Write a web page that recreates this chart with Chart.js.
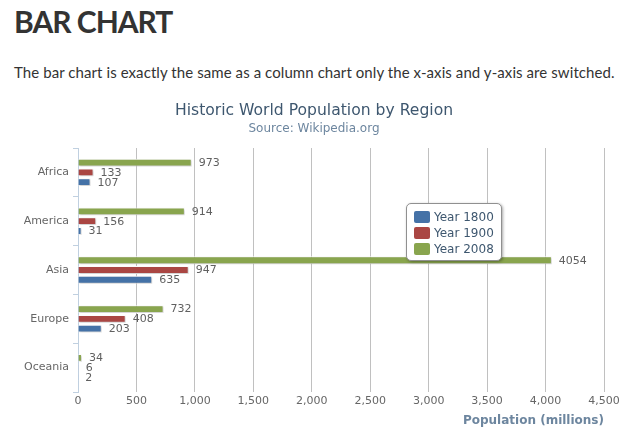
<!DOCTYPE html>
<html>
<head>
<meta charset="utf-8">
<script src="https://cdn.jsdelivr.net/npm/chart.js@4/dist/chart.umd.min.js"></script>
<style>
  html, body { margin: 0; padding: 0; background: #fff; width: 634px; height: 435px; overflow: hidden; }
  h1 { position: absolute; left: 14px; top: 3px; margin: 0; font-family: Lato, sans-serif; font-weight: 700; font-size: 30px; color: #333; letter-spacing: -1px; white-space: nowrap; }
  p.desc { position: absolute; left: 14px; top: 63px; margin: 0; font-family: Lato, sans-serif; font-size: 15px; color: #333; white-space: nowrap; letter-spacing: 0.08px; }
  #wrap { position: absolute; left: 0; top: 95px; width: 634px; height: 340px; }
  #legend { position: absolute; left: 406px; top: 203px; width: 96px; height: 58px; background: #fff; border: 1px solid #909090; border-radius: 5px; box-shadow: 1px 1px 3px rgba(0,0,0,0.35); font-family: "DejaVu Sans", sans-serif; font-size: 12px; color: #3E576F; box-sizing: border-box; padding: 5px 0 0 7px; }
  #legend .item { height: 16px; line-height: 16px; white-space: nowrap; }
  #legend .sw { display: inline-block; width: 16px; height: 12px; border-radius: 2px; vertical-align: -2px; margin-right: 4px; }
</style>
</head>
<body>
<h1>BAR CHART</h1>
<p class="desc">The bar chart is exactly the same as a column chart only the x-axis and y-axis are switched.</p>
<div id="wrap"><canvas id="c"></canvas></div>
<div id="legend"></div>
<script>
const categories = ['Africa', 'America', 'Asia', 'Europe', 'Oceania'];
const year1800 = [107, 31, 635, 203, 2];
const year1900 = [133, 156, 947, 408, 6];
const year2008 = [973, 914, 4054, 732, 34];
const seriesNames = ['Year 1800', 'Year 1900', 'Year 2008'];
const seriesColors = ['#4572A7', '#AA4643', '#89A54E'];
const xTickMax = 4500;
const xTickStep = 500;

const seriesData = [year1800, year1900, year2008];
// drawn top-to-bottom inside each group: 2008, 1900, 1800
const datasets = [2, 1, 0].map(i => ({
  label: seriesNames[i],
  data: seriesData[i],
  backgroundColor: seriesColors[i],
  borderColor: '#FFFFFF',
  borderWidth: 1,
  categoryPercentage: 0.6,
  barPercentage: 0.8
}));

const barExtras = {
  id: 'barExtras',
  beforeDatasetsDraw(chart) {
    const ctx = chart.ctx;
    ctx.save();
    ctx.shadowColor = 'rgba(0,0,0,0.22)';
    ctx.shadowBlur = 2;
    ctx.shadowOffsetX = 1;
    ctx.shadowOffsetY = 1;
  },
  afterDatasetsDraw(chart) {
    const ctx = chart.ctx;
    ctx.restore();
    ctx.save();
    ctx.font = '11px "DejaVu Sans", sans-serif';
    ctx.fillStyle = '#606060';
    ctx.textAlign = 'left';
    ctx.textBaseline = 'middle';
    chart.data.datasets.forEach((ds, di) => {
      const meta = chart.getDatasetMeta(di);
      meta.data.forEach((el, i) => {
        ctx.fillText(String(ds.data[i]), el.x + 7, el.y + 0.5);
      });
    });
    ctx.restore();
  }
};

const chart = new Chart(document.getElementById('c'), {
  type: 'bar',
  data: { labels: categories, datasets },
  options: {
    indexAxis: 'y',
    responsive: true,
    maintainAspectRatio: false,
    animation: false,
    layout: { padding: { left: 24, right: 30, top: 0, bottom: 0 } },
    plugins: {
      legend: { display: false },
      tooltip: { enabled: false },
      title: {
        display: true,
        text: 'Historic World Population by Region',
        color: '#3E576F',
        font: { family: '"DejaVu Sans", sans-serif', size: 15.6, weight: 'normal' },
        padding: { top: 7, bottom: 0 }
      },
      subtitle: {
        display: true,
        text: 'Source: Wikipedia.org',
        color: '#6D869F',
        font: { family: '"DejaVu Sans", sans-serif', size: 12, weight: 'normal' },
        padding: { top: 0.5, bottom: 12.4 }
      }
    },
    scales: {
      x: {
        min: 0,
        max: xTickMax,
        ticks: {
          stepSize: xTickStep,
          padding: 3,
          color: '#666',
          font: { family: '"DejaVu Sans", sans-serif', size: 11 },
          callback: v => v.toLocaleString('en-US')
        },
        grid: { color: '#C0C0C0', lineWidth: 1, drawTicks: false },
        border: { display: false },
        title: {
          display: true,
          text: 'Population (millions)',
          align: 'end',
          color: '#6D869F',
          font: { family: '"DejaVu Sans", sans-serif', size: 12, weight: 'bold' },
          padding: { top: 4, bottom: 7 }
        },
        afterFit(scale) { scale.height = 43; }
      },
      y: {
        ticks: {
          padding: 4,
          color: '#666',
          font: { family: '"DejaVu Sans", sans-serif', size: 11 }
        },
        grid: { drawOnChartArea: false, drawTicks: true, tickLength: 5, tickColor: '#C0D0E0', offset: true },
        border: { display: true, color: '#C0D0E0', width: 1 },
        afterFit(scale) { scale.width = 54; }
      }
    }
  },
  plugins: [barExtras]
});

// HTML legend from the series arrays
const legend = document.getElementById('legend');
seriesNames.forEach((name, i) => {
  const d = document.createElement('div');
  d.className = 'item';
  d.innerHTML = '<span class="sw" style="background:' + seriesColors[i] + '"></span>' + name;
  legend.appendChild(d);
});
</script>
</body>
</html>
